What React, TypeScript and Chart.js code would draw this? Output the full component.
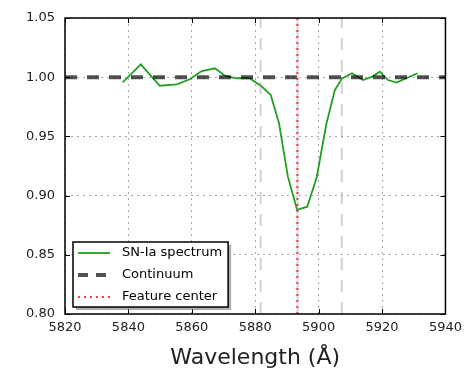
import React, { useEffect, useRef } from 'react';
import { Chart, registerables } from 'chart.js';

Chart.register(...registerables);

// ---- data ----
const wavelength = [5838.2, 5843.9, 5849.9, 5855.3, 5859.5, 5863.1, 5867.3, 5870.4, 5874.0, 5878.2, 5881.9, 5884.9, 5887.5, 5890.3, 5893.2, 5896.4, 5899.4, 5902.4, 5905.1, 5907.4, 5910.5, 5914.0, 5916.9, 5919.3, 5921.9, 5924.6, 5927.6, 5931.2];
const flux = [0.9957, 1.0109, 0.9928, 0.994, 0.9985, 1.0052, 1.0075, 1.0013, 0.9991, 0.9991, 0.9925, 0.985, 0.9611, 0.916, 0.888, 0.8906, 0.9155, 0.96, 0.989, 0.999, 1.0033, 0.9976, 1.0005, 1.0047, 0.9976, 0.9954, 0.9991, 1.0033];
const continuumLevel = 1.0;
const continuumRange = [5820, 5940];
const featureCenter = 5893.3;
const regionBounds = [5881.7, 5907.3];
const xTicks = [5820, 5840, 5860, 5880, 5900, 5920, 5940];
const yTicks = [0.8, 0.85, 0.9, 0.95, 1.0, 1.05];
const yRange = [0.8, 1.05];
const legendLabels = ['SN-Ia spectrum', 'Continuum', 'Feature center'];
const xTitle = 'Wavelength (Å)';

const FONT = '"DejaVu Sans", "Liberation Sans", sans-serif';

const frameTicksPlugin = {
  id: 'frameTicks',
  afterDatasetsDraw(chart: any) {
    const { ctx, chartArea: a, scales } = chart;
    ctx.save();
    ctx.strokeStyle = '#000';
    ctx.lineWidth = 1;
    const tl = 5;
    const seg = (x1: number, y1: number, x2: number, y2: number) => {
      ctx.beginPath();
      ctx.moveTo(x1, y1);
      ctx.lineTo(x2, y2);
      ctx.stroke();
    };
    scales.x.ticks.forEach((t: any) => {
      const px = Math.round(scales.x.getPixelForValue(t.value)) + 0.5;
      seg(px, a.bottom, px, a.bottom - tl);
      seg(px, a.top, px, a.top + tl);
    });
    scales.y.ticks.forEach((t: any) => {
      const py = Math.round(scales.y.getPixelForValue(t.value)) + 0.5;
      seg(a.left, py, a.left + tl, py);
      seg(a.right, py, a.right - tl, py);
    });
    ctx.lineWidth = 1.5;
    ctx.strokeRect(a.left, a.top, a.right - a.left, a.bottom - a.top);
    ctx.restore();
  },
};

const legendPlugin = {
  id: 'innerLegend',
  afterDraw(chart: any) {
    const { ctx, chartArea: a } = chart;
    const entries = chart.data.datasets.filter((d: any) => legendLabels.includes(d.label));
    ctx.save();
    ctx.font = `13px ${FONT}`;
    const left = a.left + 8;
    const rowH = 22;
    const height = 65;
    const bottom = a.bottom - 7;
    const top = bottom - height;
    const textX = left + 49;
    const maxW = Math.max(...entries.map((e: any) => ctx.measureText(e.label).width));
    const width = textX + maxW + 6 - left;
    // shadow
    ctx.fillStyle = 'rgba(120,120,120,0.6)';
    ctx.fillRect(left + 3, top + 3, width, height);
    ctx.fillStyle = '#fff';
    ctx.fillRect(left, top, width, height);
    ctx.strokeStyle = '#000';
    ctx.lineWidth = 1.5;
    ctx.strokeRect(left, top, width, height);
    entries.forEach((e: any, i: number) => {
      const cy = top + 11 + i * rowH;
      ctx.save();
      ctx.strokeStyle = e.borderColor;
      ctx.lineWidth = e.borderWidth;
      ctx.setLineDash(e.legendDash || e.borderDash || []);
      ctx.beginPath();
      ctx.moveTo(left + 5, cy);
      ctx.lineTo(left + 37, cy);
      ctx.stroke();
      ctx.restore();
      ctx.fillStyle = '#000';
      ctx.textBaseline = 'middle';
      ctx.textAlign = 'left';
      ctx.fillText(e.label, textX, cy);
    });
    ctx.restore();
  },
};

export default function App() {
  const canvasRef = useRef<HTMLCanvasElement | null>(null);

  useEffect(() => {
    if (!canvasRef.current) return;
    Chart.defaults.font.family = FONT;
    const vline = (x: number) => [
      { x, y: yRange[0] },
      { x, y: yRange[1] },
    ];
    const chart = new Chart(canvasRef.current, {
      type: 'scatter',
      data: {
        datasets: [
          {
            label: legendLabels[0],
            data: wavelength.map((w, i) => ({ x: w, y: flux[i] })),
            showLine: true,
            borderColor: '#22a022',
            borderWidth: 1.8,
            pointRadius: 0,
            order: 6,
          },
          {
            label: legendLabels[1],
            data: continuumRange.map((w) => ({ x: w, y: continuumLevel })),
            showLine: true,
            borderColor: 'rgba(0,0,0,0.68)',
            borderWidth: 4,
            borderDash: [12, 10],
            legendDash: [10, 8],
            pointRadius: 0,
            order: 5,
          } as any,
          {
            label: 'center band',
            data: vline(featureCenter),
            showLine: true,
            borderColor: 'rgba(128,128,128,0.22)',
            borderWidth: 3,
            pointRadius: 0,
            order: 4,
          },
          {
            label: legendLabels[2],
            data: vline(featureCenter),
            showLine: true,
            borderColor: 'rgba(255,40,40,0.9)',
            borderWidth: 2,
            borderDash: [2, 4],
            pointRadius: 0,
            order: 3,
          },
          ...regionBounds.map((b, i) => ({
            label: 'bound ' + i,
            data: vline(b),
            showLine: true,
            borderColor: 'rgba(140,140,140,0.4)',
            borderWidth: 2,
            borderDash: [12, 10],
            pointRadius: 0,
            order: 1,
          })),
        ],
      },
      options: {
        responsive: false,
        animation: false,
        layout: { padding: { top: 18, right: 18, left: 0, bottom: 0 } },
        plugins: { legend: { display: false }, tooltip: { enabled: false } },
        scales: {
          x: {
            type: 'linear',
            min: xTicks[0],
            max: xTicks[xTicks.length - 1],
            afterBuildTicks: (s: any) => {
              s.ticks = xTicks.map((v) => ({ value: v }));
            },
            afterFit: (s: any) => {
              s.height = 57;
            },
            grid: { color: '#a8a8a8', lineWidth: 1, drawTicks: false },
            border: { display: false, dash: [2, 4] },
            ticks: {
              padding: 6,
              color: '#222',
              font: { family: FONT, size: 13 },
              maxRotation: 0,
              autoSkip: false,
              callback: (v: any) => String(v),
            },
            title: {
              display: true,
              text: xTitle,
              color: '#222',
              font: { family: FONT, size: 22 },
              padding: { top: 0, bottom: 0 },
            },
          },
          y: {
            type: 'linear',
            min: yRange[0],
            max: yRange[1],
            afterBuildTicks: (s: any) => {
              s.ticks = yTicks.map((v) => ({ value: v }));
            },
            afterFit: (s: any) => {
              s.width = 65;
            },
            grid: { color: '#a8a8a8', lineWidth: 1, drawTicks: false },
            border: { display: false, dash: [2, 4] },
            ticks: {
              padding: 10,
              color: '#222',
              font: { family: FONT, size: 13 },
              autoSkip: false,
              callback: (v: any) => Number(v).toFixed(2),
            },
          },
        },
      } as any,
      plugins: [frameTicksPlugin, legendPlugin],
    });
    return () => chart.destroy();
  }, []);

  return (
    <div style={{ position: 'absolute', left: 0, top: 0, width: 468, height: 371, background: '#fff' }}>
      <canvas ref={canvasRef} width={468} height={371} style={{ display: 'block' }} />
    </div>
  );
}
